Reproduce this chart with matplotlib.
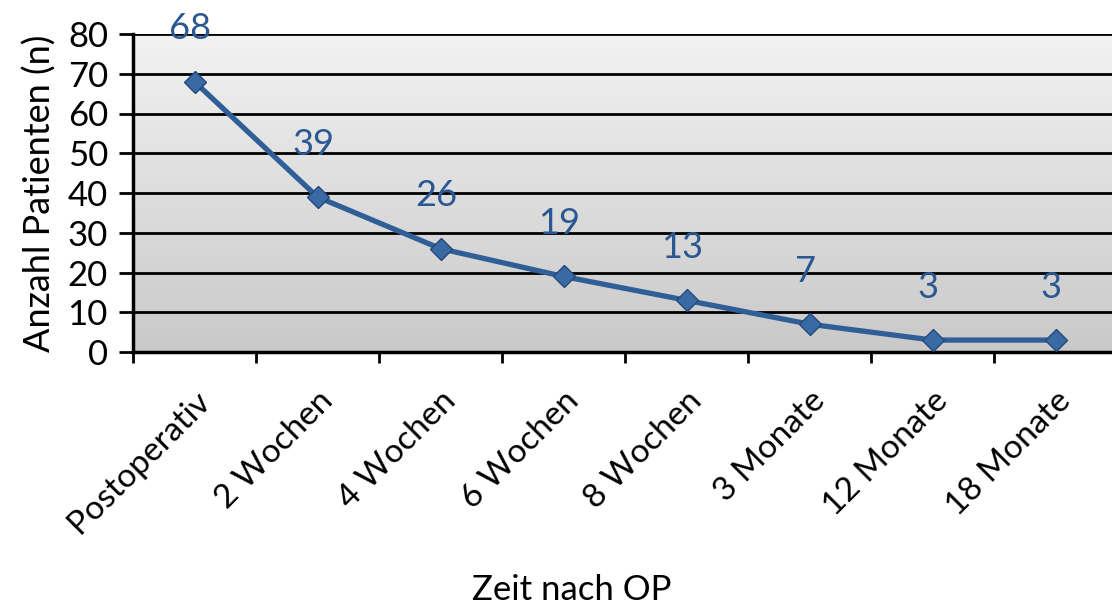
import matplotlib
matplotlib.use("Agg")
import matplotlib.pyplot as plt
import numpy as np
from matplotlib.colors import LinearSegmentedColormap

categories = ["Postoperativ", "2 Wochen", "4 Wochen", "6 Wochen", "8 Wochen",
              "3 Monate", "12 Monate", "18 Monate"]
patients = [68, 39, 26, 19, 13, 7, 3, 3]
y_ticks = [0, 10, 20, 30, 40, 50, 60, 70, 80]

plt.rcParams['font.family'] = ['Lato', 'DejaVu Sans']

W, H = 1112, 610
fig = plt.figure(figsize=(W / 100, H / 100), dpi=100)
left, right, top, bottom = 133, 1117, 34, 352
ax = fig.add_axes([left / W, 1 - bottom / H, (right - left) / W, (bottom - top) / H])

n = len(categories)
x = np.arange(n)
ax.set_xlim(-0.5, n - 0.5)
ax.set_ylim(0, 80)

# gradient background: light at top, darker at bottom
grad = np.linspace(0, 1, 256).reshape(-1, 1)
cmap = LinearSegmentedColormap.from_list("g", ["#f2f2f2", "#c9c9c9"])
ax.imshow(grad, aspect='auto', cmap=cmap, extent=[0, 1, 0, 1], origin='upper',
          transform=ax.transAxes, zorder=0)

for yv in y_ticks[1:]:
    ax.axhline(yv, color='black', lw=2.0, zorder=1)

ax.plot(x, patients, color='#2f5f96', lw=3.8, marker='D', markersize=11,
        markerfacecolor='#3a6aa3', markeredgecolor='#24497a', markeredgewidth=1,
        zorder=3, solid_joinstyle='round')

for xi, v in zip(x, patients):
    ax.annotate(str(v), (xi, v), xytext=(-3, 38), textcoords='offset points',
                ha='center', va='center', fontsize=26, color='#2b5891', zorder=4)

ax.set_yticks(y_ticks)
ax.set_yticklabels([str(t) for t in y_ticks], fontsize=25)
ax.set_xticks(np.arange(-0.5, n + 0.5, 1.0))
ax.set_xticklabels([])
ax.set_xticks(x, minor=True)
ax.set_xticklabels(categories, minor=True, rotation=45, ha='right', va='top',
                   rotation_mode='anchor', fontsize=24)
ax.tick_params(axis='x', which='minor', length=0, pad=24)
ax.tick_params(axis='x', which='major', length=8, width=2, direction='out')
ax.tick_params(axis='y', length=10, width=2, direction='out', pad=8)

for s in ['top', 'right']:
    ax.spines[s].set_visible(False)
ax.spines['left'].set_linewidth(2.5)
ax.spines['bottom'].set_linewidth(2.5)

ax.set_ylabel("Anzahl Patienten (n)", fontsize=26, labelpad=8)
fig.text(572 / W, 1 - 590 / H, "Zeit nach OP", ha='center', va='center', fontsize=25)

fig.savefig("out.png", dpi=100)
